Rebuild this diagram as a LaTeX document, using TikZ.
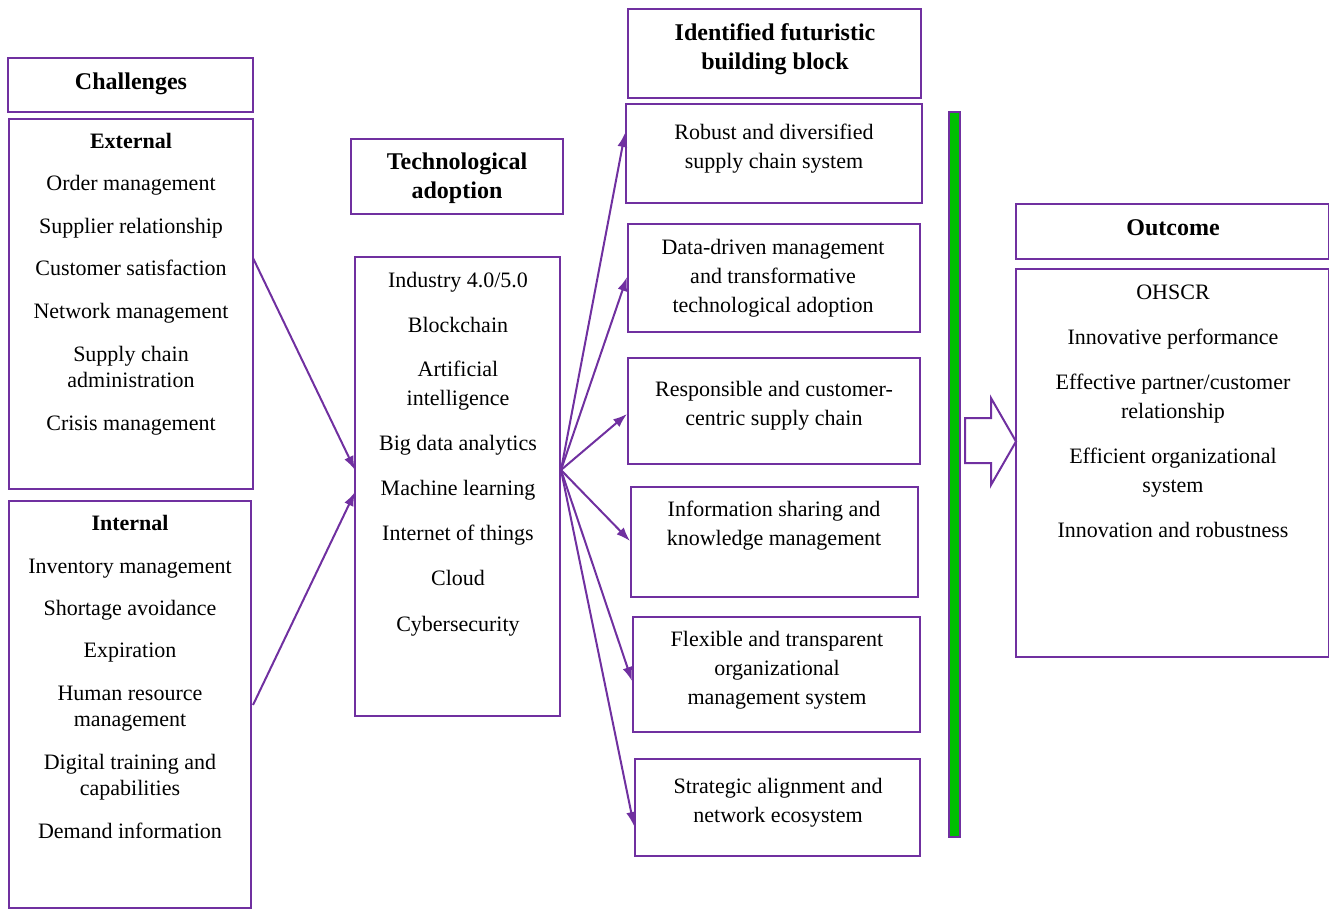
\documentclass[tikz,border=0pt]{standalone}
\usepackage{fontspec}
\setmainfont{Liberation Serif}
\usetikzlibrary{arrows.meta}
\definecolor{frame}{HTML}{7030A0}
\definecolor{barfill}{HTML}{00C000}
\tikzset{
  box/.style={draw=frame, line width=2pt, inner sep=0pt, fill=white},
  txt/.style={inner sep=0pt, align=center, yshift=-2.5pt, font=\fontsize{22}{29}\selectfont},
  btxt/.style={txt, font=\fontsize{22}{29}\selectfont\bfseries},
  htxt/.style={txt, font=\fontsize{24}{29}\selectfont\bfseries},
  arr/.style={draw=frame, line width=2pt, -{Latex[length=14pt,width=10pt]}},
}
\begin{document}
\begin{tikzpicture}[x=1pt,y=-1pt]
\useasboundingbox (0,0) rectangle (1329,909);
% boxes
\node[box, minimum width=245, minimum height=54] (chal) at (130.5,85) {};
\node[box, minimum width=244, minimum height=370] (ext) at (131,304) {};
\node[box, minimum width=242, minimum height=407] (int) at (130,704.5) {};
\node[box, minimum width=212, minimum height=75] (techh) at (457,176.5) {};
\node[box, minimum width=205, minimum height=459] (tech) at (457.5,486.5) {};
\node[box, minimum width=293, minimum height=89] (idh) at (774.5,53.5) {};
\node[box, minimum width=296, minimum height=99] (b1) at (774,153.5) {};
\node[box, minimum width=292, minimum height=108] (b2) at (774,278) {};
\node[box, minimum width=292, minimum height=106] (b3) at (774,411) {};
\node[box, minimum width=287, minimum height=110] (b4) at (774.5,542) {};
\node[box, minimum width=287, minimum height=115] (b5) at (776.5,674.5) {};
\node[box, minimum width=285, minimum height=97] (b6) at (777.5,807.5) {};
\node[box, fill=barfill, minimum width=11, minimum height=725] (bar) at (954.5,474.5) {};
\node[box, minimum width=313, minimum height=55] (outh) at (1172.5,231.5) {};
\node[box, minimum width=313, minimum height=388] (out) at (1172.5,463) {};
% block arrow
\draw[draw=frame, line width=2pt, fill=white, line join=miter]
  (965,418) -- (991,418) -- (991,398) -- (1016,441.5) -- (991,485) -- (991,463) -- (965,463) -- cycle;
% texts: headers
\node[htxt] (tchal) at (131,81) {Challenges};
\node[htxt] (ttechh) at (457,176) {Technological\\adoption};
\node[htxt] (tidh) at (775,46.5) {Identified futuristic\\building block};
\node[htxt] (touth) at (1173,225) {Outcome};
% external
\node[btxt] (text) at (131,138) {External};
\node[txt] (e1) at (131,183) {Order management};
\node[txt] (e2) at (131,226) {Supplier relationship};
\node[txt] (e3) at (131,265) {Customer satisfaction};
\node[txt] (e4) at (131,311) {Network management};
\node[txt] (e5) at (131,364) {Supply chain\\[-3pt]administration};
\node[txt] (e6) at (131,423) {Crisis management};
% internal
\node[btxt] (tint) at (130,520) {Internal};
\node[txt] (i1) at (130,566) {Inventory management};
\node[txt] (i2) at (130,608) {Shortage avoidance};
\node[txt] (i3) at (130,650) {Expiration};
\node[txt] (i4) at (130,706) {Human resource\\[-3pt]management};
\node[txt] (i5) at (130,775) {Digital training and\\[-3pt]capabilities};
\node[txt] (i6) at (130,828) {Demand information};
% technologies
\node[txt] (t1) at (458,280) {Industry 4.0/5.0};
\node[txt] (t2) at (458,322) {Blockchain};
\node[txt] (t3) at (458,383.5) {Artificial\\intelligence};
\node[txt] (t4) at (458,443) {Big data analytics};
\node[txt] (t5) at (458,488) {Machine learning};
\node[txt] (t6) at (458,533) {Internet of things};
\node[txt] (t7) at (458,575) {Cloud};
\node[txt] (t8) at (458,624) {Cybersecurity};
% blocks
\node[txt] (tb1) at (774,146.5) {Robust and diversified\\supply chain system};
\node[txt] (tb2) at (773,276) {Data-driven management\\and transformative\\technological adoption};
\node[txt] (tb3) at (774,403.5) {Responsible and customer-\\centric supply chain};
\node[txt] (tb4) at (774,523.5) {Information sharing and\\knowledge management};
\node[txt] (tb5) at (777,668) {Flexible and transparent\\organizational\\management system};
\node[txt] (tb6) at (778,800.5) {Strategic alignment and\\network ecosystem};
% outcome
\node[txt] (o1) at (1173,290) {OHSCR};
\node[txt] (o2) at (1173,337) {Innovative performance};
\node[txt] (o3) at (1173,396.5) {Effective partner/customer\\relationship};
\node[txt] (o4) at (1173,470.5) {Efficient organizational\\system};
\node[txt] (o5) at (1173,527) {Innovation and robustness};
% connectors
\coordinate (extout) at (253,258);
\coordinate (intout) at (253,705);
\coordinate (techin1) at (355,470);
\coordinate (techin2) at (355,492);
\coordinate (hub) at (561,470);
\draw[arr] (extout) -- (techin1);
\draw[arr] (intout) -- (techin2);
\draw[arr] (hub) -- (b1.west |- 0,133);
\draw[arr] (hub) -- (b2.west |- 0,277);
\draw[arr] (hub) -- (b3.west |- 0,414);
\draw[arr] (hub) -- (b4.west |- 0,541);
\draw[arr] (hub) -- (b5.west |- 0,681);
\draw[arr] (hub) -- (b6.west |- 0,826);
\end{tikzpicture}
\end{document}
